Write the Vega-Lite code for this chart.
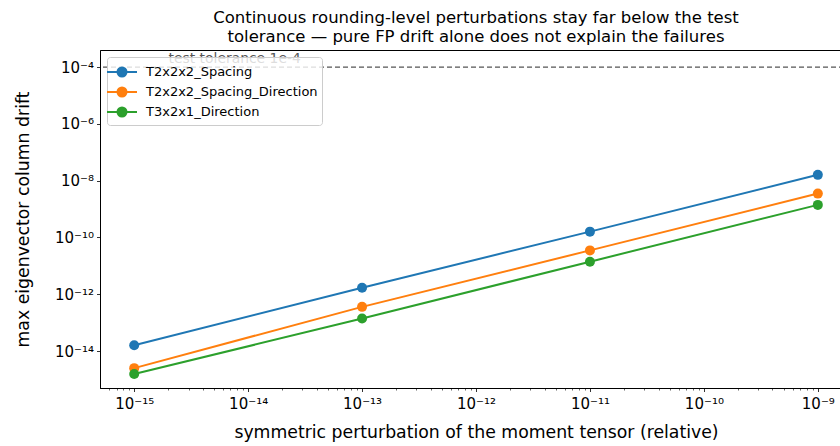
{
  "$schema": "https://vega.github.io/schema/vega-lite/v6.json",
  "width": 752,
  "height": 338,
  "autosize": {"type": "none"},
  "padding": {"left": 100, "top": 50, "right": 0, "bottom": 58},
  "background": "white",
  "title": {
    "text": ["Continuous rounding-level perturbations stay far below the test", "tolerance — pure FP drift alone does not explain the failures"],
    "fontSize": 16.5, "font": "DejaVu Sans", "fontWeight": "normal", "anchor": "middle", "offset": 5, "lineHeight": 18.5, "color": "black"
  },
  "config": {
    "font": "DejaVu Sans",
    "view": {"stroke": "black", "strokeWidth": 1},
    "axis": {
      "grid": false, "labelFont": "DejaVu Sans", "titleFont": "DejaVu Sans", "labelFontSize": 15, "titleFontSize": 17.3,
      "titleFontWeight": "normal", "labelColor": "black", "titleColor": "black", "tickColor": "black", "domainColor": "black",
      "tickSize": 3.5, "labelPadding": 3, "domainWidth": 1, "tickWidth": 0.8
    },
    "legend": {
      "orient": "none", "legendX": 7, "legendY": 7, "title": null,
      "symbolType": "M-1.5,0H1.5M0.45,0A0.45,0.45,0,1,1,-0.45,0A0.45,0.45,0,1,1,0.45,0Z",
      "symbolSize": 400, "symbolStrokeWidth": 2, "labelFontSize": 13, "labelFont": "DejaVu Sans", "labelColor": "black",
      "labelOffset": 13, "labelLimit": 400, "rowPadding": 0, "padding": 4,
      "fillColor": "rgba(255,255,255,0.8)", "strokeColor": "#cccccc", "cornerRadius": 3
    }
  },
  "datasets": {
    "drift": [
      {"series": "T2x2x2_Spacing", "perturbation": 1e-15, "drift": 1.6e-14},
      {"series": "T2x2x2_Spacing", "perturbation": 1e-13, "drift": 1.7e-12},
      {"series": "T2x2x2_Spacing", "perturbation": 1e-11, "drift": 1.6e-10},
      {"series": "T2x2x2_Spacing", "perturbation": 1e-9, "drift": 1.6e-8},
      {"series": "T2x2x2_Spacing_Direction", "perturbation": 1e-15, "drift": 2.5e-15},
      {"series": "T2x2x2_Spacing_Direction", "perturbation": 1e-13, "drift": 3.6e-13},
      {"series": "T2x2x2_Spacing_Direction", "perturbation": 1e-11, "drift": 3.5e-11},
      {"series": "T2x2x2_Spacing_Direction", "perturbation": 1e-9, "drift": 3.5e-9},
      {"series": "T3x2x1_Direction", "perturbation": 1e-15, "drift": 1.55e-15},
      {"series": "T3x2x1_Direction", "perturbation": 1e-13, "drift": 1.4e-13},
      {"series": "T3x2x1_Direction", "perturbation": 1e-11, "drift": 1.4e-11},
      {"series": "T3x2x1_Direction", "perturbation": 1e-9, "drift": 1.4e-9}
    ],
    "tol": [{"tolerance": 1e-4, "x": 2e-15, "label": "test tolerance 1e-4"}]
  },
  "layer": [
    {
      "data": {"name": "tol"},
      "mark": {"type": "rule", "color": "#555555", "strokeDash": [5, 3], "strokeWidth": 1.2},
      "encoding": {
        "y": {"field": "tolerance", "type": "quantitative", "scale": {"type": "log", "domain": [5.0e-16, 3.98e-4], "nice": false},
          "axis": {"title": "max eigenvector column drift", "values": [1e-14, 1e-12, 1e-10, 1e-8, 1e-6, 1e-4],
            "labelExpr": "'10' + (round(log(datum.value)/LN10) == -14 ? '⁻¹⁴' : round(log(datum.value)/LN10) == -12 ? '⁻¹²' : round(log(datum.value)/LN10) == -10 ? '⁻¹⁰' : round(log(datum.value)/LN10) == -8 ? '⁻⁸' : round(log(datum.value)/LN10) == -6 ? '⁻⁶' : '⁻⁴')",
            "titlePadding": 22}}
      }
    },
    {
      "data": {"name": "tol"},
      "mark": {"type": "text", "align": "left", "baseline": "alphabetic", "dy": -4, "fontSize": 13.9, "color": "#555555", "font": "DejaVu Sans"},
      "encoding": {
        "x": {"field": "x", "type": "quantitative", "scale": {"type": "log", "domain": [5.01e-16, 1.995e-9], "nice": false}},
        "y": {"field": "tolerance", "type": "quantitative"},
        "text": {"field": "label"}
      }
    },
    {
      "data": {"name": "drift"},
      "mark": {"type": "line", "strokeWidth": 2},
      "encoding": {
        "x": {"field": "perturbation", "type": "quantitative", "scale": {"type": "log", "domain": [5.01e-16, 1.995e-9], "nice": false},
          "axis": {"title": "symmetric perturbation of the moment tensor (relative)",
            "values": [6e-16, 7e-16, 8e-16, 9e-16,
              1e-15, 2e-15, 3e-15, 4e-15, 5e-15, 6e-15, 7e-15, 8e-15, 9e-15,
              1e-14, 2e-14, 3e-14, 4e-14, 5e-14, 6e-14, 7e-14, 8e-14, 9e-14,
              1e-13, 2e-13, 3e-13, 4e-13, 5e-13, 6e-13, 7e-13, 8e-13, 9e-13,
              1e-12, 2e-12, 3e-12, 4e-12, 5e-12, 6e-12, 7e-12, 8e-12, 9e-12,
              1e-11, 2e-11, 3e-11, 4e-11, 5e-11, 6e-11, 7e-11, 8e-11, 9e-11,
              1e-10, 2e-10, 3e-10, 4e-10, 5e-10, 6e-10, 7e-10, 8e-10, 9e-10, 1e-9],
            "labelOverlap": false,
            "tickSize": {"condition": {"test": "abs(log(datum.value)/LN10 - round(log(datum.value)/LN10)) > 0.01", "value": 2}, "value": 3.5},
            "tickWidth": {"condition": {"test": "abs(log(datum.value)/LN10 - round(log(datum.value)/LN10)) > 0.01", "value": 0.6}, "value": 0.8},
            "labelExpr": "abs(log(datum.value)/LN10 - round(log(datum.value)/LN10)) > 0.01 ? '' : '10' + (round(log(datum.value)/LN10) == -15 ? '⁻¹⁵' : round(log(datum.value)/LN10) == -14 ? '⁻¹⁴' : round(log(datum.value)/LN10) == -13 ? '⁻¹³' : round(log(datum.value)/LN10) == -12 ? '⁻¹²' : round(log(datum.value)/LN10) == -11 ? '⁻¹¹' : round(log(datum.value)/LN10) == -10 ? '⁻¹⁰' : '⁻⁹')",
            "labelPadding": 5, "titlePadding": 12}},
        "y": {"field": "drift", "type": "quantitative"},
        "color": {"field": "series", "type": "nominal",
          "scale": {"domain": ["T2x2x2_Spacing", "T2x2x2_Spacing_Direction", "T3x2x1_Direction"], "range": ["#1f77b4", "#ff7f0e", "#2ca02c"]},
          "legend": {"encode": {"symbols": {"update": {"fill": {"scale": "color", "field": "value"}, "stroke": {"scale": "color", "field": "value"}, "opacity": {"value": 1}}}}}}
      }
    },
    {
      "data": {"name": "drift"},
      "mark": {"type": "point", "filled": true, "size": 100, "opacity": 1},
      "encoding": {
        "x": {"field": "perturbation", "type": "quantitative"},
        "y": {"field": "drift", "type": "quantitative"},
        "color": {"field": "series", "type": "nominal"}
      }
    }
  ]
}
